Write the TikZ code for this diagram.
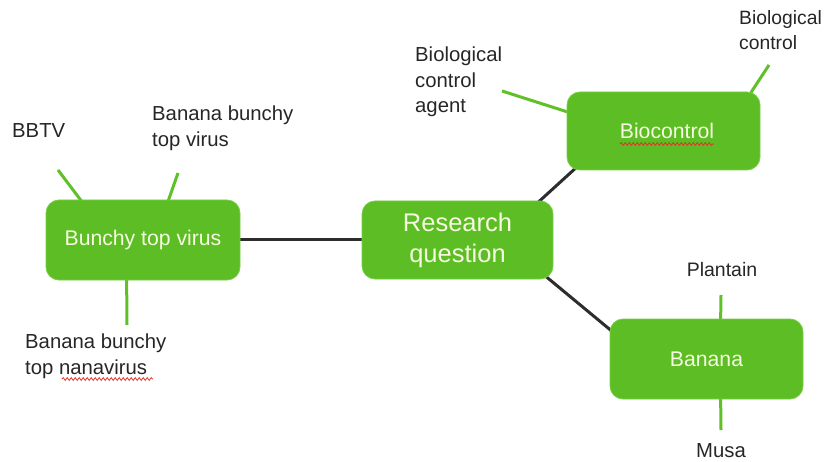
\documentclass[tikz,border=0pt]{standalone}
\usepackage{fontspec}
\setmainfont{Liberation Sans}
\usetikzlibrary{backgrounds,decorations.pathmorphing}
\definecolor{boxgreen}{RGB}{92,190,36}
\definecolor{boxedge}{RGB}{120,205,70}
\definecolor{leafgreen}{RGB}{96,192,40}
\definecolor{linkgray}{RGB}{45,45,45}
\definecolor{labeltext}{RGB}{38,38,38}
\definecolor{boxtext}{RGB}{246,250,224}
\definecolor{spellred}{RGB}{225,50,40}
\tikzset{
  topic/.style={draw=boxedge, line width=0.8pt, fill=boxgreen, rounded corners=13pt,
    text=boxtext, align=center, inner sep=0pt,
    font=\fontsize{21.2}{26}\selectfont},
  leaf/.style={text=labeltext, align=left, inner sep=0pt,
    font=\fontsize{20.3}{25.3}\selectfont},
  leafline/.style={draw=leafgreen, line width=3pt},
  link/.style={draw=linkgray, line width=3pt},
  spell/.style={draw=spellred, line width=0.8pt,
    decorate, decoration={snake, amplitude=1.4pt, segment length=4pt}}
}
\begin{document}
\begin{tikzpicture}[x=1pt, y=-1pt]
\useasboundingbox (0,0) rectangle (829,462);

% main topics
\node[topic, minimum width=194pt, minimum height=80pt] (bt) at (143,240) {Bunchy top virus};
\node[topic, minimum width=191pt, minimum height=78pt,
      font=\fontsize{25.5}{31}\selectfont] (rq) at (457.5,240) {Research\\question};
\node[topic, minimum width=193pt, minimum height=78pt] (bc) at (663.5,131) {\hspace*{7pt}Biocontrol};
\node[topic, minimum width=193pt, minimum height=80pt] (ban) at (706.5,359) {Banana};

% leaf labels
\node[leaf, anchor=north west] (bbtv) at (12,123) {BBTV};
\node[leaf, anchor=north west] (bbtvfull) at (152,106) {Banana bunchy\\top virus};
\node[leaf, anchor=north west] (nano) at (25,334) {Banana bunchy\\top nanavirus};
\node[leaf, anchor=north west] (bca) at (415,47) {Biological\\control\\agent};
\node[leaf, anchor=north west, font=\fontsize{19.3}{25}\selectfont] (biocon) at (739,10) {Biological\\control};
\node[leaf, anchor=north, font=\fontsize{19.5}{25}\selectfont] (plantain) at (722,262) {Plantain};
\node[leaf, anchor=north] (musa) at (721,443) {Musa};

% free ends of the leaf lines
\coordinate (bbtvEnd) at (58,170);
\coordinate (bbtvfullEnd) at (178,173);
\coordinate (nanoEnd) at (127,325);
\coordinate (bcaEnd) at (502,91);
\coordinate (bioconEnd) at (769,65);
\coordinate (plantainEnd) at (721,295);
\coordinate (musaEnd) at (721,430);

\begin{pgfonlayer}{background}
  \draw[link] (bt.east) -- (rq.west);
  \draw[link] ([xshift=-20pt,yshift=-6pt]rq.north east) -- ([xshift=12pt,yshift=5pt]bc.south west);
  \draw[link] ([xshift=-10pt,yshift=5pt]rq.south east) -- ([xshift=4pt,yshift=-14pt]ban.north west);
  \draw[leafline] (bbtvEnd) -- ([xshift=37pt,yshift=-3pt]bt.north west);
  \draw[leafline] (bbtvfullEnd) -- ([xshift=122pt,yshift=-3pt]bt.north west);
  \draw[leafline] ([xshift=81pt,yshift=3pt]bt.south west) -- (nanoEnd);
  \draw[leafline] (bcaEnd) -- ([xshift=3pt,yshift=-21pt]bc.north west);
  \draw[leafline] (bioconEnd) -- ([xshift=183pt,yshift=-3pt]bc.north west);
  \draw[leafline] (plantainEnd) -- ([xshift=111pt,yshift=-3pt]ban.north west);
  \draw[leafline] ([xshift=111pt,yshift=3pt]ban.south west) -- (musaEnd);
\end{pgfonlayer}

% spell-check underlines
\draw[spell] (620,144) -- (714,144);
\draw[spell] (62,379) -- (153,379);
\end{tikzpicture}
\end{document}
